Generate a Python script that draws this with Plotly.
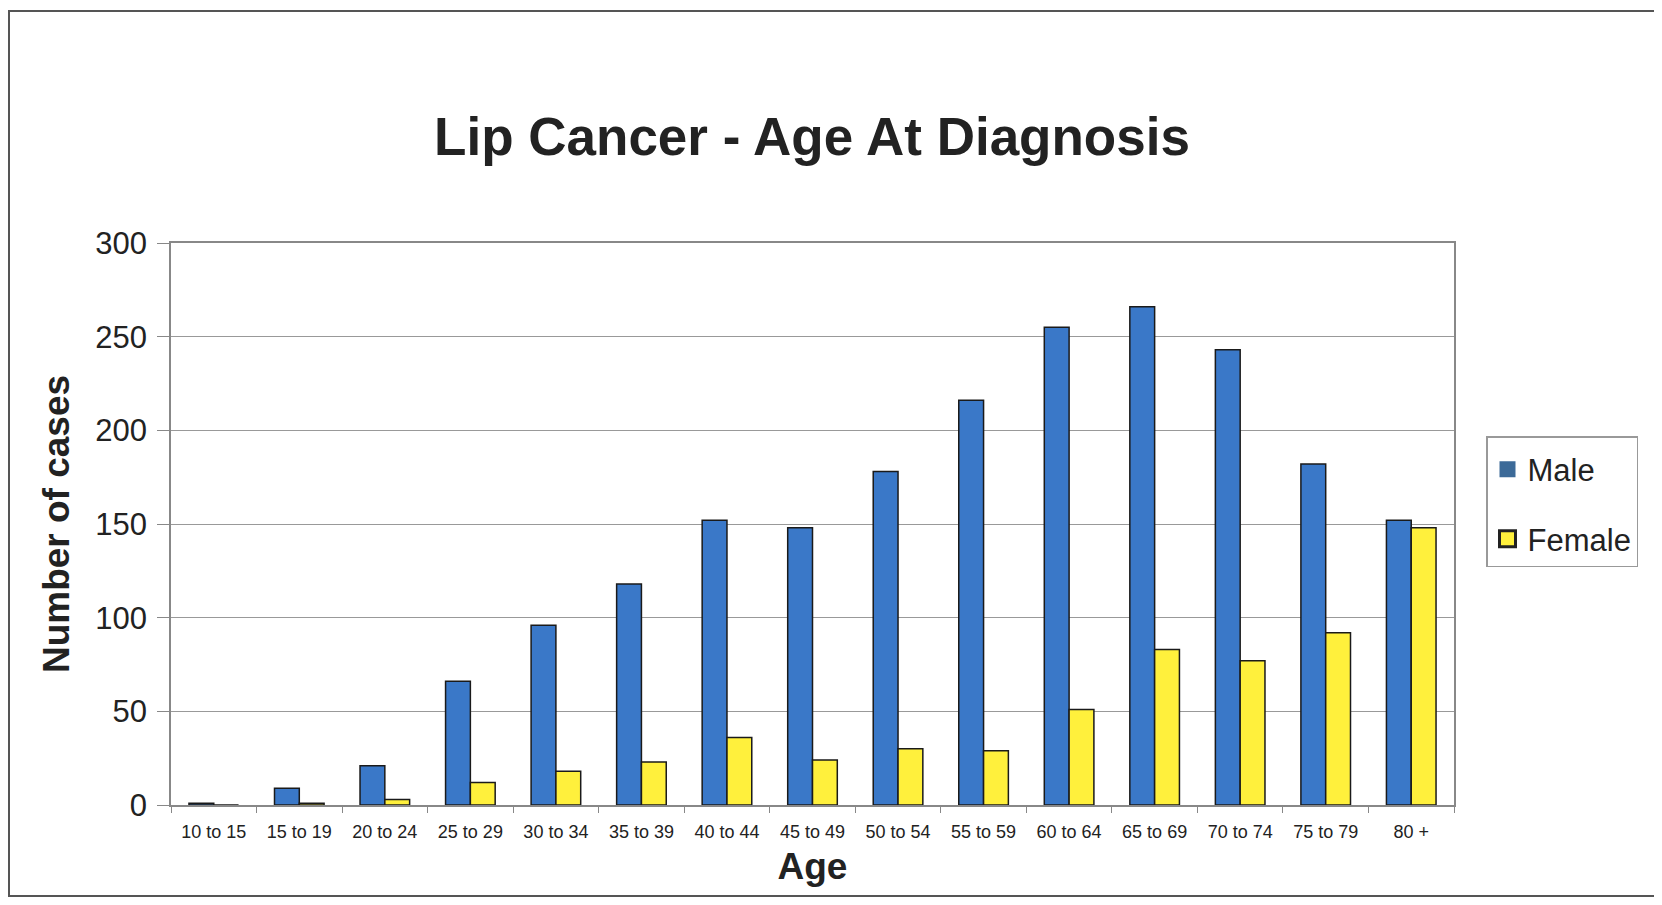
import plotly.graph_objects as go

age_groups = ["10 to 15", "15 to 19", "20 to 24", "25 to 29", "30 to 34", "35 to 39",
              "40 to 44", "45 to 49", "50 to 54", "55 to 59", "60 to 64", "65 to 69",
              "70 to 74", "75 to 79", "80 +"]
male = [1, 9, 21, 66, 96, 118, 152, 148, 178, 216, 255, 266, 243, 182, 152]
female = [0, 1, 3, 12, 18, 23, 36, 24, 30, 29, 51, 83, 77, 92, 148]
y_ticks = [0, 50, 100, 150, 200, 250, 300]

# page is offset by the default 8px body margin
OFF = 8
W, H = 1662 - 2 * OFF, 905 - 2 * OFF
L, T = 171 - OFF, 243 - OFF
R = W - (1454 - OFF)
B = H - (805 - OFF)
pw, ph = W - L - R, H - T - B


def px(x):  # page x -> paper x
    return (x - OFF - L) / pw


def py(y):  # page y -> paper y
    return (H - B - (y - OFF)) / ph


MALE_C, FEMALE_C, EDGE = "#3a78c8", "#fff03c", "#1a1a1a"

fig = go.Figure()
fig.add_trace(go.Bar(x=age_groups, y=male, name="Male", showlegend=False,
                     marker=dict(color=MALE_C, line=dict(color=EDGE, width=1.5))))
fig.add_trace(go.Bar(x=age_groups, y=female, name="Female", showlegend=False,
                     marker=dict(color=FEMALE_C, line=dict(color=EDGE, width=1.5))))
# legend entries with larger square swatches
fig.add_trace(go.Scatter(x=[None], y=[None], mode="markers", name="Male", legendgroup="m",
                         marker=dict(symbol="square", size=21, color="#3c6a98",
                                     line=dict(width=0))))
fig.add_trace(go.Scatter(x=[None], y=[None], mode="markers", name="Female", legendgroup="f",
                         marker=dict(symbol="square", size=18, color=FEMALE_C,
                                     line=dict(color="#222", width=3))))

fig.update_layout(
    width=W, height=H,
    margin=dict(l=L, r=R, t=T, b=B),
    paper_bgcolor="white", plot_bgcolor="white",
    barmode="group", bargap=0.42, bargroupgap=0,
    font=dict(family="Liberation Sans, Arial, sans-serif", color="#222"),
    title=dict(text="<b>Lip Cancer - Age At Diagnosis</b>", x=(812 - OFF) / W, xanchor="center",
               y=1 - (136 - OFF) / H, yanchor="middle", yref="container",
               font=dict(size=53, color="#222")),
    showlegend=True,
    legend=dict(x=px(1486), y=py(436), xanchor="left", yanchor="top",
                bordercolor="#999", borderwidth=1.5, bgcolor="white",
                font=dict(size=31, color="#222"), traceorder="grouped",
                tracegroupgap=26, itemwidth=30,
                title=dict(text=" ", font=dict(size=4))),
    xaxis=dict(range=[-0.5, 14.5]),
)
fig.update_xaxes(
    showline=True, linecolor="#888", linewidth=1.5, mirror=True,
    ticks="outside", tickson="boundaries", ticklen=6, tickcolor="#888",
    ticklabelstandoff=10,
    tickfont=dict(size=18, color="#222"),
    title=dict(text="<b>Age</b>", font=dict(size=37, color="#222"), standoff=12),
)
fig.update_yaxes(
    range=[0, 300], tickvals=y_ticks,
    showline=True, linecolor="#888", linewidth=1.5, mirror=True,
    showgrid=True, gridcolor="#999", gridwidth=1.2,
    ticks="outside", ticklen=12, tickcolor="#888",
    ticklabelstandoff=4,
    tickfont=dict(size=31, color="#222"),
    title=dict(text="<b>Number of cases</b>", font=dict(size=37, color="#222"), standoff=14),
    zeroline=False,
)
# outer scanned frame
fig.add_shape(type="rect", xref="paper", yref="paper",
              x0=px(OFF + 1), x1=px(1700), y0=py(905 - OFF - 1), y1=py(11),
              line=dict(color="#555", width=2), fillcolor="rgba(0,0,0,0)", layer="below")

fig.write_html("out.html")
